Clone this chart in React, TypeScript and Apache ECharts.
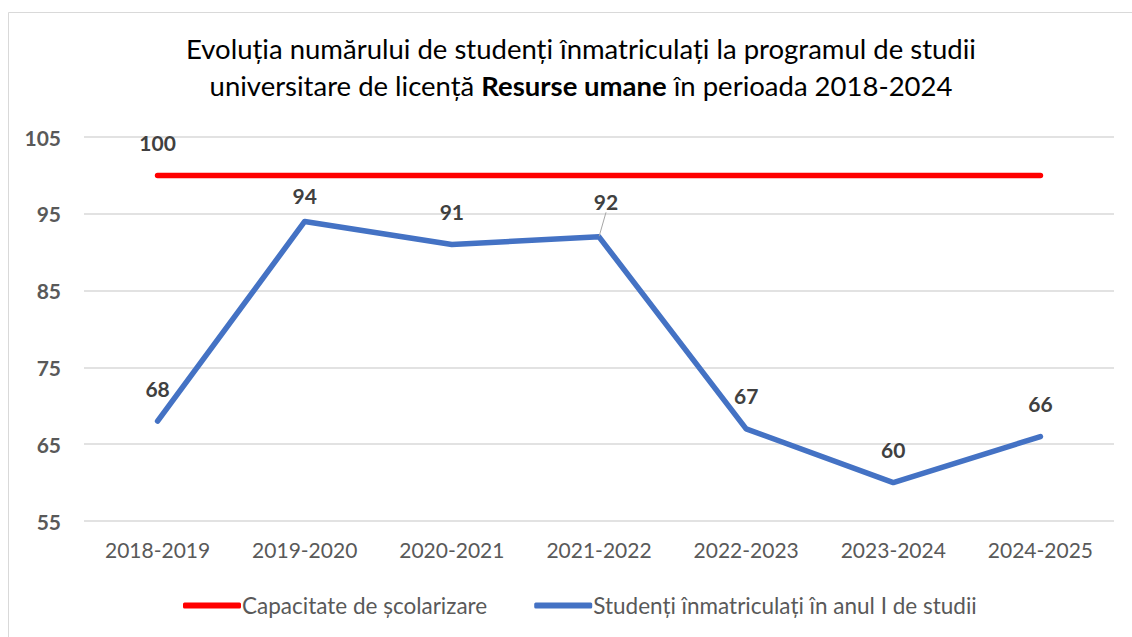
import React, { useEffect, useRef } from "react";
import * as echarts from "echarts";

const categories = ["2018-2019", "2019-2020", "2020-2021", "2021-2022", "2022-2023", "2023-2024", "2024-2025"];
const capacity = [100, 100, 100, 100, 100, 100, 100];
const enrolled = [68, 94, 91, 92, 67, 60, 66];
const yTicks = [55, 65, 75, 85, 95, 105];
const seriesNames = ["Capacitate de școlarizare", "Studenți înmatriculați în anul I de studii"];

const FONT = "Lato, 'Open Sans', sans-serif";

export default function App() {
  const ref = useRef<HTMLDivElement>(null);
  useEffect(() => {
    document.body.style.margin = "0";
    const chart = echarts.init(ref.current!, null, { renderer: "svg" });
    const labelStyle = { fontFamily: FONT, fontSize: 21, fontWeight: "bold", color: "#404040" };
    chart.setOption({
      animation: false,
      backgroundColor: "#ffffff",
      textStyle: { fontFamily: FONT },
      title: {
        text: "Evoluția numărului de studenți înmatriculați la programul de studii\nuniversitare de licență {b|Resurse umane} în perioada 2018-2024",
        left: 576,
        top: 25,
        textAlign: "center",
        textStyle: {
          fontFamily: FONT,
          fontSize: 27.5,
          fontWeight: "normal",
          color: "#000000",
          lineHeight: 37,
          rich: { b: { fontFamily: FONT, fontSize: 27.5, fontWeight: "bold", color: "#000000", lineHeight: 37 } },
        },
      },
      graphic: [
        {
          type: "rect",
          shape: { x: 8.5, y: 12.5, width: 1200, height: 700 },
          style: { fill: "none", stroke: "#d9d9d9", lineWidth: 1 },
          silent: true,
        },
      ],
      legend: {
        data: seriesNames,
        left: 178,
        top: 589,
        icon: "roundRect",
        itemWidth: 58,
        itemHeight: 6,
        itemGap: 47,
        textStyle: { fontFamily: FONT, fontSize: 22.5, color: "#595959", padding: [0, 0, 0, -4] },
      },
      grid: { left: 84, right: 18, top: 137, bottom: 116 },
      xAxis: {
        type: "category",
        data: categories,
        boundaryGap: true,
        axisLine: { show: false },
        axisTick: { show: false },
        axisLabel: { fontFamily: FONT, fontSize: 21, color: "#595959", margin: 18 },
      },
      yAxis: {
        type: "value",
        min: 55,
        max: 105,
        interval: 5,
        axisLine: { show: false },
        axisTick: { show: false },
        splitLine: { show: false },
        axisLabel: {
          fontFamily: FONT,
          fontSize: 21,
          fontWeight: "bold",
          color: "#595959",
          margin: 23,
          formatter: (v: number) => (yTicks.includes(v) ? String(v) : ""),
        },
      },
      series: [
        {
          name: seriesNames[0],
          type: "line",
          data: capacity.map((v, i) => (i === 0 ? { value: v, label: { show: true } } : v)),
          symbol: "circle",
          symbolSize: 1,
          color: "#ff0000",
          lineStyle: { color: "#ff0000", width: 5.5, cap: "round", join: "round" },
          itemStyle: { color: "#ff0000" },
          label: { show: false, position: "top", distance: 22, ...labelStyle },
          z: 3,
        },
        {
          name: seriesNames[1],
          type: "line",
          data: enrolled.map((v, i) =>
            i === 3
              ? { value: v, labelLine: { show: true, lineStyle: { color: "#a6a6a6", width: 1 } } }
              : i === 1
              ? { value: v, label: { distance: 15 } }
              : v
          ),
          symbol: "circle",
          symbolSize: 1,
          color: "#4472c4",
          lineStyle: { color: "#4472c4", width: 5.5, cap: "round", join: "round" },
          itemStyle: { color: "#4472c4" },
          label: { show: true, position: "top", distance: 22, ...labelStyle },
          labelLayout: (p: any) => (p.dataIndex === 3 ? { dx: 7, dy: -2 } : {}),
          markLine: {
            silent: true,
            symbol: ["none", "none"],
            label: { show: false },
            lineStyle: { color: "#d9d9d9", width: 1.5, type: "solid" },
            z: 1,
            data: yTicks.map((v) => ({ yAxis: v })),
          },
          z: 3,
        },
      ],
    });
    return () => chart.dispose();
  }, []);
  return <div ref={ref} style={{ width: 1132, height: 637 }} />;
}
